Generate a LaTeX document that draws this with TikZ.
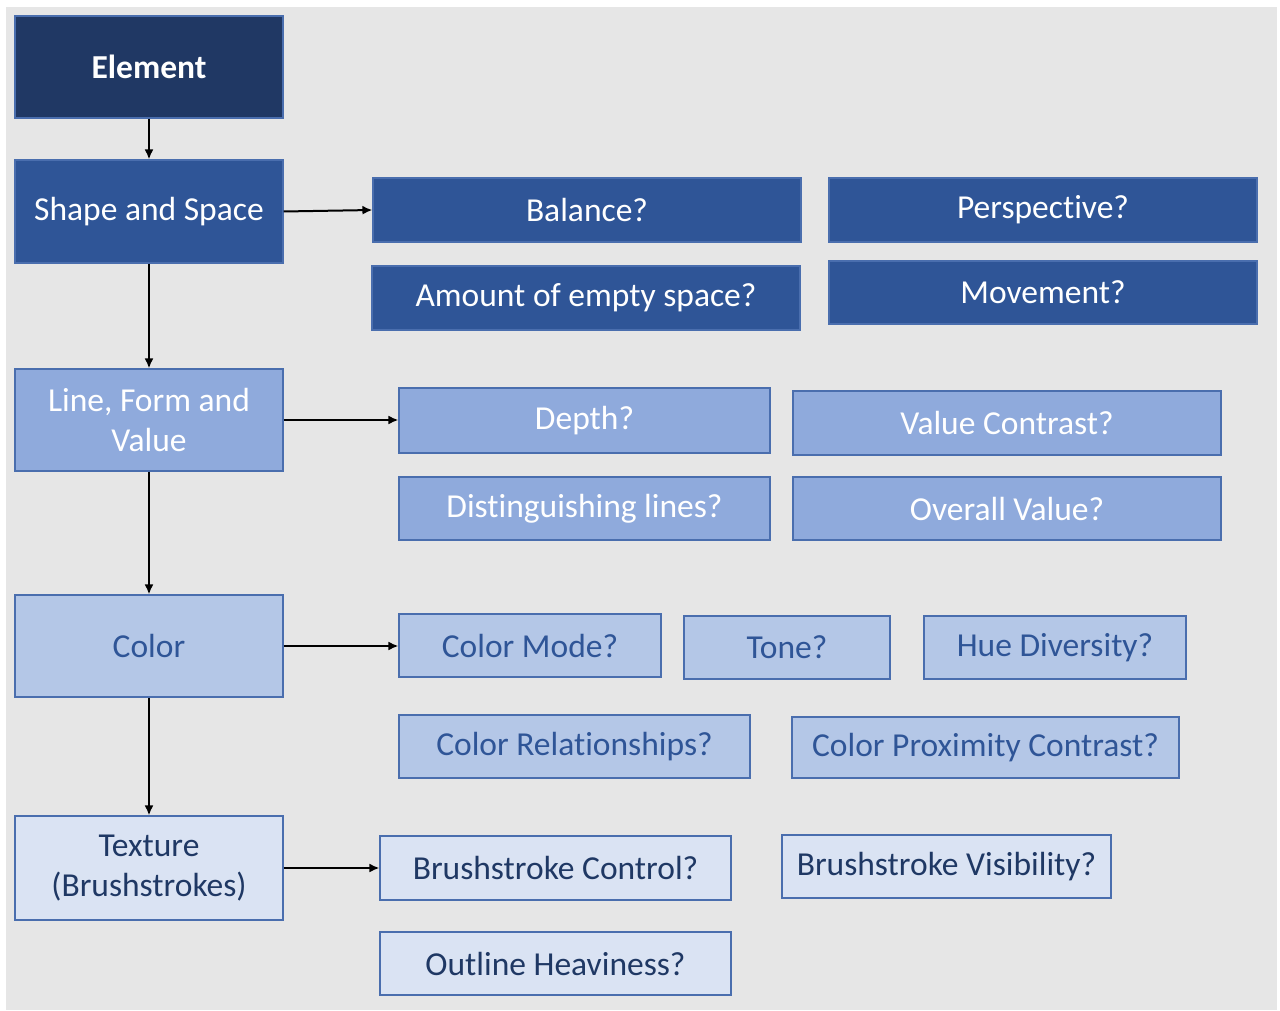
\documentclass[tikz,border=0pt]{standalone}
\usepackage{fontspec}
\setmainfont[Ligatures=NoCommon]{Carlito}
\usetikzlibrary{arrows.meta}
\definecolor{bgray}{HTML}{E6E6E6}
\definecolor{lvA}{HTML}{203864}
\definecolor{lvB}{HTML}{2F5597}
\definecolor{lvC}{HTML}{8FAADC}
\definecolor{lvD}{HTML}{B4C7E7}
\definecolor{lvE}{HTML}{DAE3F3}
\definecolor{edgeblue}{HTML}{4A6EAE}
\definecolor{txtC}{HTML}{2F5597}
\definecolor{txtD}{HTML}{1F3864}
\tikzset{
  box/.style={draw=edgeblue, line width=1.1pt, inner sep=0pt, align=center,
    font=\fontsize{33.5}{40}\selectfont},
  boxA/.style={box, fill=lvA, text=white, font=\fontsize{33.5}{40}\selectfont\bfseries},
  boxB/.style={box, fill=lvB, text=white},
  boxC/.style={box, fill=lvC, text=white},
  boxD/.style={box, fill=lvD, text=txtC},
  boxE/.style={box, fill=lvE, text=txtD},
  arr/.style={line width=2pt, -{Latex[length=10pt,width=9pt]}},
}
\newcommand{\bx}[7]{\node[#1, minimum width={#4-#3}, minimum height={#6-#5}] (#2) at ({(#3+#4)/2},{(#5+#6)/2}) {#7};}
\begin{document}
\begin{tikzpicture}[x=1pt,y=-1pt]
\useasboundingbox (0,0) rectangle (1280,1011);
\fill[white] (0,0) rectangle (1280,1011);
\fill[bgray] (6,7) rectangle (1277,1010);
% main column
\bx{boxA}{el}{15}{283}{16}{118}{Element}
\bx{boxB}{ss}{15}{283}{160}{263}{Shape and Space}
\bx{boxC}{lf}{15}{283}{369}{471}{Line, Form and\\Value}
\bx{boxD}{co}{15}{283}{595}{697}{Color}
\bx{boxE}{tx}{15}{283}{816}{920}{Texture\\(Brushstrokes)}
% shape and space
\bx{boxB}{bal}{373}{801}{178}{242}{Balance?}
\bx{boxB}{per}{829}{1257}{178}{242}{Perspective?}
\bx{boxB}{emp}{372}{800}{266}{330}{Amount of empty space?}
\bx{boxB}{mov}{829}{1257}{261}{324}{Movement?}
% line form value
\bx{boxC}{dep}{399}{770}{388}{453}{Depth?}
\bx{boxC}{vc}{793}{1221}{391}{455}{Value Contrast?}
\bx{boxC}{dl}{399}{770}{477}{540}{Distinguishing lines?}
\bx{boxC}{ov}{793}{1221}{477}{540}{Overall Value?}
% color
\bx{boxD}{cm}{399}{661}{614}{677}{Color Mode?}
\bx{boxD}{tone}{684}{890}{616}{679}{Tone?}
\bx{boxD}{hue}{924}{1186}{616}{679}{Hue Diversity?}
\bx{boxD}{cr}{399}{750}{715}{778}{Color Relationships?}
\bx{boxD}{cpc}{792}{1179}{717}{778}{Color Proximity Contrast?}
% texture
\bx{boxE}{bc}{380}{731}{836}{900}{Brushstroke Control?}
\bx{boxE}{bv}{782}{1111}{835}{898}{Brushstroke Visibility?}
\bx{boxE}{oh}{380}{731}{932}{995}{Outline Heaviness?}
% connectors
\draw[arr] (el) -- (ss);
\draw[arr] (ss) -- (lf);
\draw[arr] (lf) -- (co);
\draw[arr] (co) -- (tx);
\draw[arr] (ss.east) -- (bal.west);
\draw[arr] (lf.east) -- (lf.east -| dep.west);
\draw[arr] (co.east) -- (co.east -| cm.west);
\draw[arr] (tx.east) -- (tx.east -| bc.west);
\end{tikzpicture}
\end{document}
